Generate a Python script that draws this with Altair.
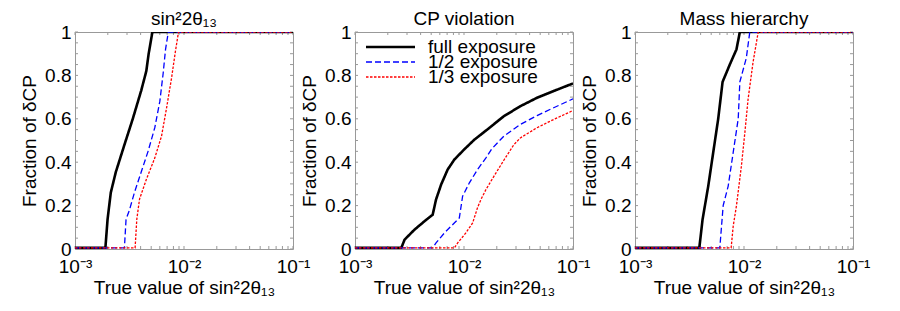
import altair as alt
import pandas as pd

FONT = "Liberation Sans"
FS = 19

series = ["full exposure", "1/2 exposure", "1/3 exposure"]
colors = ["#000000", "#0000ff", "#ff0000"]
panel_titles = ["sin²2θ₁₃", "CP violation", "Mass hierarchy"]

# ---- panel 1: sin^2 2theta13 ----
p1_full_x = [1e-3, 1.90e-3, 1.99e-3, 2.13e-3, 2.37e-3, 2.84e-3, 3.39e-3, 4.05e-3, 4.51e-3, 4.74e-3, 5.13e-3, 1e-1]
p1_full_y = [0.005, 0.005, 0.137, 0.26, 0.355, 0.48, 0.60, 0.73, 0.82, 0.90, 1.0, 1.0]
p1_half_x = [1e-3, 2.84e-3, 2.94e-3, 3.16e-3, 3.51e-3, 4.05e-3, 4.68e-3, 5.40e-3, 6.0e-3, 6.44e-3, 6.77e-3, 7.18e-3, 1e-1]
p1_half_y = [0.005, 0.005, 0.137, 0.18, 0.26, 0.355, 0.45, 0.56, 0.68, 0.81, 0.92, 1.0, 1.0]
p1_third_x = [1e-3, 3.56e-3, 3.69e-3, 3.91e-3, 4.51e-3, 5.40e-3, 6.22e-3, 6.92e-3, 7.7e-3, 8.28e-3, 8.9e-3, 1e-1]
p1_third_y = [0.005, 0.005, 0.137, 0.23, 0.32, 0.42, 0.52, 0.65, 0.79, 0.90, 1.0, 1.0]

# ---- panel 2: CP violation ----
p2_full_x = [1e-3, 2.66e-3, 2.85e-3, 3.51e-3, 4.34e-3, 5.16e-3, 5.54e-3, 6.17e-3, 7.08e-3, 8.15e-3, 1.01e-2, 1.24e-2, 1.63e-2, 2.32e-2, 3.29e-2, 4.68e-2, 6.65e-2, 1e-1]
p2_full_y = [0.005, 0.005, 0.043, 0.089, 0.128, 0.158, 0.228, 0.297, 0.366, 0.412, 0.46, 0.503, 0.55, 0.612, 0.658, 0.697, 0.728, 0.763]
p2_half_x = [1e-3, 5.16e-3, 5.54e-3, 6.61e-3, 8.15e-3, 9.06e-3, 9.71e-3, 1.12e-2, 1.33e-2, 1.59e-2, 1.8e-2, 2.32e-2, 3.29e-2, 4.68e-2, 6.65e-2, 1e-1]
p2_half_y = [0.005, 0.005, 0.028, 0.074, 0.12, 0.143, 0.243, 0.305, 0.366, 0.42, 0.462, 0.52, 0.574, 0.615, 0.651, 0.692]
p2_third_x = [1e-3, 8.15e-3, 8.75e-3, 1.04e-2, 1.20e-2, 1.33e-2, 1.43e-2, 1.59e-2, 1.88e-2, 2.32e-2, 2.86e-2, 3.29e-2, 4.68e-2, 6.65e-2, 1e-1]
p2_third_y = [0.005, 0.005, 0.028, 0.074, 0.12, 0.19, 0.228, 0.274, 0.335, 0.409, 0.48, 0.512, 0.559, 0.597, 0.638]

# ---- panel 3: Mass hierarchy ----
p3_full_x = [1e-3, 3.89e-3, 4.17e-3, 4.70e-3, 5.22e-3, 5.80e-3, 6.36e-3, 7.41e-3, 8.53e-3, 9.16e-3, 1e-1]
p3_full_y = [0.005, 0.005, 0.137, 0.29, 0.445, 0.60, 0.77, 0.85, 0.92, 1.0, 1.0]
p3_half_x = [1e-3, 6.0e-3, 6.44e-3, 7.16e-3, 7.96e-3, 8.85e-3, 9.16e-3, 1.05e-2, 1.13e-2, 1e-1]
p3_half_y = [0.005, 0.005, 0.2, 0.29, 0.445, 0.60, 0.77, 0.88, 1.0, 1.0]
p3_third_x = [1e-3, 7.62e-3, 7.96e-3, 8.53e-3, 9.48e-3, 1.02e-2, 1.09e-2, 1.21e-2, 1.35e-2, 1e-1]
p3_third_y = [0.005, 0.005, 0.105, 0.2, 0.385, 0.54, 0.69, 0.86, 1.0, 1.0]

# frame tick positions (inward ticks)
x_tick_values = [1e-3, 2e-3, 3e-3, 4e-3, 5e-3, 6e-3, 7e-3, 8e-3, 9e-3,
                 1e-2, 2e-2, 3e-2, 4e-2, 5e-2, 6e-2, 7e-2, 8e-2, 9e-2, 1e-1]
y_tick_values = [round(0.05 * i, 2) for i in range(21)]

W, H = 218, 217

panel_data = [
    [(p1_full_x, p1_full_y), (p1_half_x, p1_half_y), (p1_third_x, p1_third_y)],
    [(p2_full_x, p2_full_y), (p2_half_x, p2_half_y), (p2_third_x, p2_third_y)],
    [(p3_full_x, p3_full_y), (p3_half_x, p3_half_y), (p3_third_x, p3_third_y)],
]

xtitle = "True value of sin²2θ₁₃"
ytitle = "Fraction of δCP"

x_label_expr = "datum.value < 0.005 ? '10⁻³' : (datum.value < 0.05 ? '10⁻²' : '10⁻¹')"
y_label_expr = "datum.value == 0 ? '0' : (datum.value == 1 ? '1' : format(datum.value, '.1f'))"

color_scale = alt.Scale(domain=series, range=colors)
dash_scale = alt.Scale(domain=series, range=[[1, 0], [6, 3], [2.5, 1.5]])
width_scale = alt.Scale(type="ordinal", domain=series, range=[2.6, 1.3, 1.3])


def make_panel(i, show_legend):
    rows = []
    for s_idx, (xs, ys) in enumerate(panel_data[i]):
        for k, (xv, yv) in enumerate(zip(xs, ys)):
            rows.append({"series": series[s_idx], "x": xv, "y": yv, "k": k})
    df = pd.DataFrame(rows)

    xscale = alt.Scale(type="log", domain=[1e-3, 1e-1], nice=False)
    yscale = alt.Scale(domain=[0, 1], nice=False)

    lines = alt.Chart(df).mark_line(clip=True).encode(
        x=alt.X("x:Q", scale=xscale,
                axis=alt.Axis(values=[1e-3, 1e-2, 1e-1], labelExpr=x_label_expr,
                              title=xtitle, labelFlush=False)),
        y=alt.Y("y:Q", scale=yscale,
                axis=alt.Axis(values=[0, 0.2, 0.4, 0.6, 0.8, 1.0], labelExpr=y_label_expr,
                              title=ytitle)),
        color=alt.Color("series:N", scale=color_scale, legend=None),
        strokeDash=alt.StrokeDash("series:N", scale=dash_scale, legend=None),
        strokeWidth=alt.StrokeWidth("series:N", scale=width_scale, legend=None),
        order="k:Q",
    )

    xt = pd.DataFrame({"t": x_tick_values})
    yt = pd.DataFrame({"t": y_tick_values})
    tick_style = dict(color="#999999", strokeWidth=1)
    xs_ = alt.X("t:Q", scale=xscale)
    ys_ = alt.Y("t:Q", scale=yscale)
    top_ticks = alt.Chart(xt).mark_rule(**tick_style).encode(x=xs_, y=alt.value(0), y2=alt.value(3))
    bot_ticks = alt.Chart(xt).mark_rule(**tick_style).encode(x=xs_, y=alt.value(H), y2=alt.value(H - 3))
    left_ticks = alt.Chart(yt).mark_rule(**tick_style).encode(y=ys_, x=alt.value(0), x2=alt.value(3))
    right_ticks = alt.Chart(yt).mark_rule(**tick_style).encode(y=ys_, x=alt.value(W), x2=alt.value(W - 3))

    layers = [top_ticks, bot_ticks, left_ticks, right_ticks, lines]

    if show_legend:
        leg_df = pd.DataFrame({"series": series, "row": list(range(len(series)))})
        base = alt.Chart(leg_df).transform_calculate(ly="15 + 15 * datum.row")
        leg_rules = base.mark_rule().encode(
            x=alt.value(11), x2=alt.value(60),
            y=alt.Y("ly:Q", scale=None),
            color=alt.Color("series:N", scale=color_scale, legend=None),
            strokeDash=alt.StrokeDash("series:N", scale=dash_scale, legend=None),
            strokeWidth=alt.StrokeWidth("series:N", scale=width_scale, legend=None),
        )
        leg_text = base.mark_text(align="left", baseline="middle", font=FONT,
                                  fontSize=FS, color="black").encode(
            x=alt.value(73),
            y=alt.Y("ly:Q", scale=None),
            text="series:N",
        )
        layers += [leg_rules, leg_text]

    return alt.layer(*layers).properties(
        width=W, height=H,
        title=alt.TitleParams(panel_titles[i], fontSize=FS, font=FONT, fontWeight="normal", offset=-6),
    )


chart = alt.hconcat(
    make_panel(0, False), make_panel(1, True), make_panel(2, False),
    spacing=62, bounds="flush",
).properties(
    padding={"left": 12, "top": 1, "right": 5, "bottom": 2},
).configure_view(
    stroke="#999999", strokeWidth=1,
).configure_axis(
    domain=False, ticks=False, grid=False,
    labelFont=FONT, labelFontSize=FS, labelColor="black", labelPadding=4,
    titleFont=FONT, titleFontSize=FS, titleFontWeight="normal", titleColor="black",
).configure_axisX(titlePadding=2, labelPadding=8).configure_axisY(titlePadding=5)

chart.save("out.html", embed_options={"renderer": "svg", "actions": False})
